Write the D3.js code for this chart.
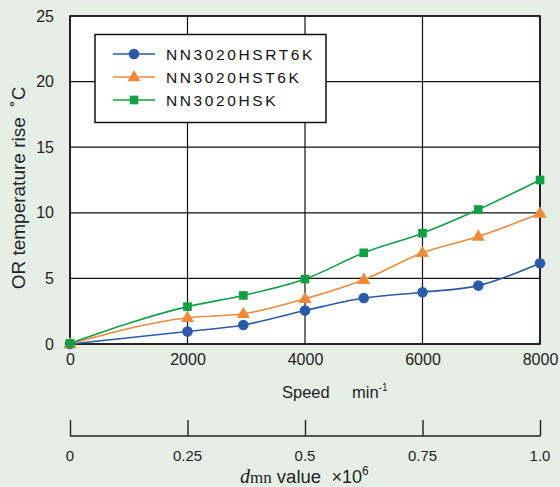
<!DOCTYPE html>
<html><head><meta charset="utf-8">
<script src="https://cdn.jsdelivr.net/npm/d3@7"></script>
<style>
html,body{margin:0;padding:0;background:#e6efe6;}
svg{display:block;font-family:"Liberation Sans",Arial,sans-serif;}
</style></head>
<body>
<script>
const speeds = [0, 2000, 2950, 4000, 5000, 6000, 6950, 8000];
const seriesNames = ["NN3020HSRT6K", "NN3020HST6K", "NN3020HSK"];
const hsrt6k = [0, 0.95, 1.45, 2.55, 3.5, 3.95, 4.45, 6.15];
const hst6k  = [0, 2.0, 2.3, 3.45, 4.9, 6.95, 8.2, 9.95];
const hsk    = [0.05, 2.85, 3.7, 4.95, 6.95, 8.45, 10.25, 12.5];
const xTicks = [0, 2000, 4000, 6000, 8000];
const yTicks = [0, 5, 10, 15, 20, 25];
const dmnTicks = [0, 0.25, 0.5, 0.75, 1.0];
const dmnLabels = ["0", "0.25", "0.5", "0.75", "1.0"];
const colors = ["#2a5aa8", "#f0893a", "#11a043"];
const symbols = [d3.symbolCircle, d3.symbolTriangle, d3.symbolSquare];
const symSizes = [88, 75, 75];

const W = 560, H = 487;
const FONT = "Liberation Sans, Arial, sans-serif";
const svg = d3.select("body").append("svg").attr("width", W).attr("height", H);
svg.append("rect").attr("width", W).attr("height", H).attr("fill", "#e6efe6");

const x = d3.scaleLinear().domain([0, 8000]).range([70, 540]);
const y = d3.scaleLinear().domain([0, 25]).range([344, 16]);
const xd = d3.scaleLinear().domain([0, 1]).range([70, 540]);

svg.append("rect").attr("x", 70).attr("y", 16).attr("width", 470).attr("height", 328).attr("fill", "#fff");

// grid
const g = svg.append("g");
g.selectAll(".vg").data(xTicks).join("line")
  .attr("x1", d => x(d)).attr("x2", d => x(d)).attr("y1", 16).attr("y2", 344)
  .attr("stroke", "#111").attr("stroke-width", 1.2);
g.selectAll(".hg").data(yTicks).join("line")
  .attr("y1", d => y(d)).attr("y2", d => y(d)).attr("x1", 70).attr("x2", 540)
  .attr("stroke", "#111").attr("stroke-width", 1.2);
svg.append("rect").attr("x", 70).attr("y", 16).attr("width", 470).attr("height", 328)
  .attr("fill", "none").attr("stroke", "#111").attr("stroke-width", 1.6);

// axes labels via d3 axes (no lines)
const yAxis = svg.append("g").attr("transform", "translate(70,0)")
  .call(d3.axisLeft(y).tickValues(yTicks).tickSize(0).tickPadding(16).tickFormat(d3.format("d")));
yAxis.attr("font-size", 16).attr("font-family", FONT);
yAxis.select(".domain").remove();
yAxis.selectAll("text").attr("fill", "#222");

const xAxis = svg.append("g").attr("transform", "translate(0,344)")
  .call(d3.axisBottom(x).tickValues(xTicks).tickSize(0).tickPadding(10).tickFormat(d3.format("d")));
xAxis.attr("font-size", 16).attr("font-family", FONT);
xAxis.select(".domain").remove();
xAxis.selectAll("text").attr("fill", "#222");

// dmn axis
const dAxis = svg.append("g").attr("transform", "translate(0,436)")
  .call(d3.axisTop(xd).tickValues(dmnTicks).tickSize(16).tickFormat(""));
dAxis.select(".domain").attr("stroke", "#222").attr("stroke-width", 1.4).attr("d", `M${xd(0)},0H${xd(1)}`);
dAxis.selectAll("line").attr("stroke", "#222").attr("stroke-width", 1.4);
svg.append("g").selectAll("text").data(dmnTicks).join("text")
  .attr("x", d => xd(d)).attr("y", 461).attr("text-anchor", "middle")
  .attr("font-size", 15).attr("fill", "#222").text((d, i) => dmnLabels[i]);

// titles
svg.append("text").attr("transform", "translate(25,188) rotate(-90)")
  .attr("text-anchor", "middle").attr("font-size", 19).attr("fill", "#222")
  .style("white-space", "pre")
  .text("OR temperature rise  ˚C");

const sp = svg.append("text").attr("x", 282).attr("y", 398).attr("font-size", 16.5).attr("fill", "#222");
sp.append("tspan").text("Speed");
sp.append("tspan").attr("x", 352).text("min");
sp.append("tspan").attr("dy", -7).attr("font-size", 10).text("-1");

const dl = svg.append("text").attr("x", 240).attr("y", 483).attr("font-size", 18.5).attr("fill", "#222")
  .style("white-space", "pre");
dl.append("tspan").attr("font-family", "Liberation Serif, serif").attr("font-style", "italic").attr("font-size", 20).text("d");
dl.append("tspan").attr("font-family", "Liberation Serif, serif").attr("font-size", 17).text("mn");
dl.append("tspan").text(" value  ");
dl.append("tspan").attr("font-size", 18).text("×10");
dl.append("tspan").attr("dy", -8).attr("font-size", 12).text("6");

// series
const allSeries = [hsrt6k, hst6k, hsk];
const line = d3.line().x((d, i) => x(speeds[i])).y(d => y(d)).curve(d3.curveMonotoneX);
allSeries.forEach((vals, k) => {
  svg.append("path").datum(vals).attr("d", line)
    .attr("fill", "none").attr("stroke", colors[k]).attr("stroke-width", 1.6);
});
allSeries.forEach((vals, k) => {
  svg.append("g").selectAll("path").data(vals).join("path")
    .attr("transform", (d, i) => `translate(${x(speeds[i])},${y(d) + (k === 1 ? 0.5 : 0)})`)
    .attr("d", d3.symbol().type(symbols[k]).size(symSizes[k]))
    .attr("fill", colors[k]);
});

// legend
const lg = svg.append("g");
lg.append("rect").attr("x", 95).attr("y", 34.5).attr("width", 231).attr("height", 88)
  .attr("fill", "#fff").attr("stroke", "#111").attr("stroke-width", 1.5);
const legendRows = [54, 77, 100];
seriesNames.forEach((name, k) => {
  const ly = legendRows[k];
  lg.append("line").attr("x1", 113).attr("x2", 155).attr("y1", ly).attr("y2", ly)
    .attr("stroke", colors[k]).attr("stroke-width", 1.6);
  lg.append("path").attr("transform", `translate(134,${ly + (k === 1 ? 0.5 : 0)})`)
    .attr("d", d3.symbol().type(symbols[k]).size(symSizes[k])).attr("fill", colors[k]);
  lg.append("text").attr("x", 166).attr("y", ly + 5.5).attr("font-size", 15.5)
    .attr("letter-spacing", 2.6).attr("fill", "#111").text(name);
});
</script>
</body></html>
